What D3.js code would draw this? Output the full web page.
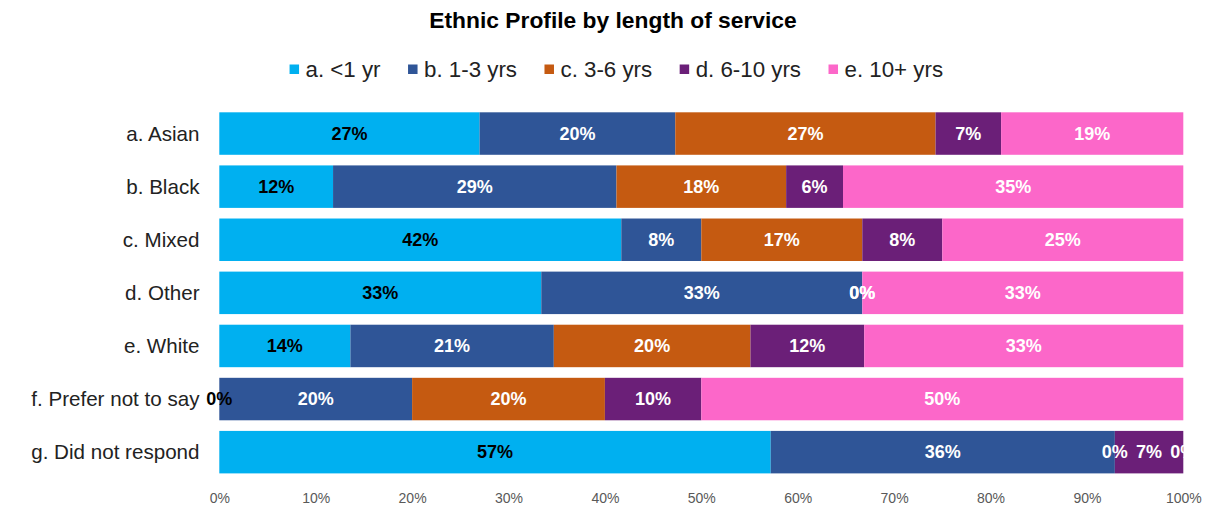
<!DOCTYPE html>
<html>
<head>
<meta charset="utf-8">
<script src="https://cdn.jsdelivr.net/npm/d3@7"></script>
<style>
  body { margin: 0; background: #fff; }
  svg { font-family: "Liberation Sans", Arial, sans-serif; }
</style>
</head>
<body>
<svg id="chart" width="1215" height="509"></svg>
<script>
// categories (top to bottom) and series (length of service)
const groups = ["a. Asian", "b. Black", "c. Mixed", "d. Other", "e. White", "f. Prefer not to say", "g. Did not respond"];
const seriesNames = ["a. <1 yr", "b. 1-3 yrs", "c. 3-6 yrs", "d. 6-10 yrs", "e. 10+ yrs"];
const seriesColors = ["#00B0F0", "#2F5597", "#C55A11", "#6B1F78", "#FC67C9"];
const labelColors = ["#000", "#fff", "#fff", "#fff", "#fff"];

// percentage of each group per series
const lt1yr   = [27.0, 11.8, 41.7, 33.4, 13.6,  0.0, 57.2];
const yrs1to3 = [20.3, 29.4,  8.3, 33.3, 21.1, 20.0, 35.7];
const yrs3to6 = [27.0, 17.6, 16.7,  0.0, 20.4, 20.0,  0.0];
const yrs6to10 = [6.8,  5.9,  8.3,  0.0, 11.8, 10.0,  7.1];
const yrs10plus = [18.9, 35.3, 25.0, 33.3, 33.1, 50.0, 0.0];

const xTicks = [0, 10, 20, 30, 40, 50, 60, 70, 80, 90, 100];

class StackedBar {
  constructor(_config) {
    this.config = {
      parentElement: _config.parentElement,
      left: 219.3,
      right: 1183.3,
      top: 107,
      bottom: 478.7
    };
    this.initVis();
  }

  initVis() {
    let vis = this;
    vis.svg = d3.select(vis.config.parentElement);

    // build a table the stack layout can use
    const cols = [lt1yr, yrs1to3, yrs3to6, yrs6to10, yrs10plus];
    vis.rows = groups.map((g, i) => {
      const r = { group: g };
      seriesNames.forEach((s, j) => r[s] = cols[j][i]);
      return r;
    });
    vis.stacked = d3.stack().keys(seriesNames)(vis.rows);

    vis.x = d3.scaleLinear().domain([0, 100]).range([vis.config.left, vis.config.right]);
    vis.y = d3.scaleBand().domain(groups)
      .range([vis.config.top, vis.config.bottom])
      .paddingInner(0.2).paddingOuter(0.1);
    vis.color = d3.scaleOrdinal().domain(seriesNames).range(seriesColors);

    vis.svg.append("defs").append("clipPath").attr("id", "plotclip")
      .append("rect").attr("x", 0).attr("y", 0)
      .attr("width", vis.config.right + 1).attr("height", 509);

    vis.updateVis();
  }

  updateVis() {
    let vis = this;
    const fmt = d3.format(".0%");

    // title
    vis.svg.append("text")
      .attr("x", 613).attr("y", 28)
      .attr("text-anchor", "middle")
      .style("font-size", "22.8px").style("font-weight", "bold").attr("fill", "#000")
      .text("Ethnic Profile by length of service");

    // legend, laid out from measured text widths then centred
    const legend = vis.svg.append("g");
    let xpos = 0;
    seriesNames.forEach((s, i) => {
      const item = legend.append("g").attr("transform", `translate(${xpos},0)`);
      item.append("rect").attr("x", 0).attr("y", -5).attr("width", 9.5).attr("height", 9.5)
        .attr("fill", seriesColors[i]);
      const t = item.append("text").attr("x", 16).attr("y", 0).attr("dy", "0.35em")
        .style("font-size", "22.3px").attr("fill", "#222").text(s);
      xpos += 16 + t.node().getComputedTextLength() + 27.5;
    });
    const legendW = xpos - 27.5;
    legend.attr("transform", `translate(${616.3 - legendW / 2},69.5)`);

    // bars
    const layers = vis.svg.selectAll(".layer")
      .data(vis.stacked)
      .join("g")
        .attr("class", "layer")
        .attr("fill", d => vis.color(d.key));

    layers.selectAll("rect")
      .data(d => d.map(p => ({ key: d.key, p })))
      .join("rect")
        .attr("x", d => vis.x(d.p[0]))
        .attr("y", d => vis.y(d.p.data.group))
        .attr("width", d => vis.x(d.p[1]) - vis.x(d.p[0]))
        .attr("height", vis.y.bandwidth());

    // data labels
    const labels = vis.svg.append("g").attr("clip-path", "url(#plotclip)");
    vis.stacked.forEach((layer, j) => {
      labels.selectAll(null)
        .data(layer)
        .join("text")
          .attr("x", d => vis.x((d[0] + d[1]) / 2))
          .attr("y", d => vis.y(d.data.group) + vis.y.bandwidth() / 2)
          .attr("dy", "0.35em")
          .attr("text-anchor", "middle")
          .style("font-size", "18px").style("font-weight", "bold")
          .attr("fill", labelColors[j])
          .text(d => fmt((d[1] - d[0]) / 100));
    });

    // category labels
    vis.svg.append("g").selectAll("text")
      .data(groups)
      .join("text")
        .attr("x", 199.5)
        .attr("y", d => vis.y(d) + vis.y.bandwidth() / 2)
        .attr("dy", "0.35em")
        .attr("text-anchor", "end")
        .style("font-size", "20.6px").attr("fill", "#222")
        .text(d => d);

    // x axis labels only
    const xAxis = d3.axisBottom(vis.x).tickValues(xTicks)
      .tickFormat(d => d + "%").tickSize(0).tickPadding(0);
    const gx = vis.svg.append("g").attr("transform", "translate(0,493)").call(xAxis);
    gx.select(".domain").remove();
    gx.selectAll("text").style("font-size", "14px")
      .style("font-family", "'Liberation Sans', Arial, sans-serif").attr("fill", "#595959");
  }
}

const chart = new StackedBar({ parentElement: "#chart" });
</script>
</body>
</html>
